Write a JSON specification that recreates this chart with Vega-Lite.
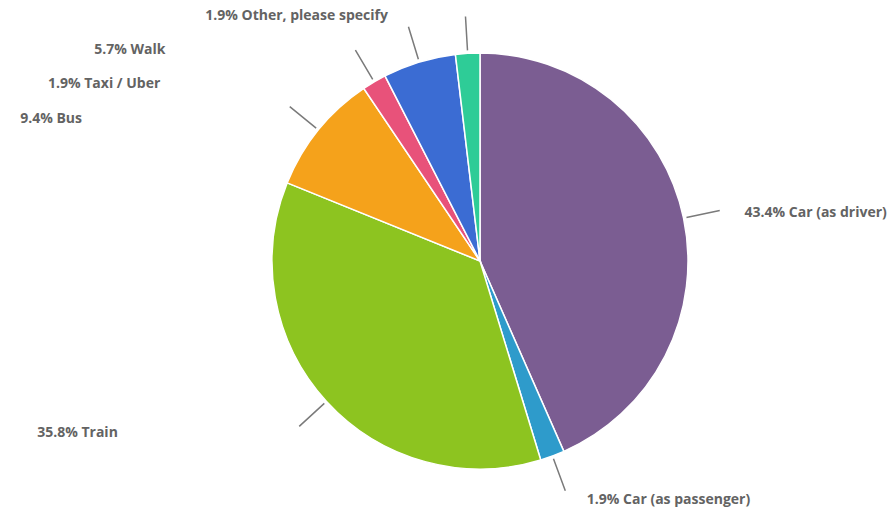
{
  "$schema": "https://vega.github.io/schema/vega-lite/v6.json",
  "width": 832,
  "height": 504,
  "autosize": "none",
  "padding": {"left": 64, "top": 9, "right": 0, "bottom": 0},
  "background": "white",
  "view": {"stroke": null},
  "data": {
    "values": [
      {"i": 1, "category": "Car (as driver)", "count": 23, "label": "43.4% Car (as driver)"},
      {"i": 2, "category": "Car (as passenger)", "count": 1, "label": "1.9% Car (as passenger)"},
      {"i": 3, "category": "Train", "count": 19, "label": "35.8% Train"},
      {"i": 4, "category": "Bus", "count": 5, "label": "9.4% Bus"},
      {"i": 5, "category": "Taxi / Uber", "count": 1, "label": "1.9% Taxi / Uber"},
      {"i": 6, "category": "Walk", "count": 3, "label": "5.7% Walk"},
      {"i": 7, "category": "Other, please specify", "count": 1, "label": "1.9% Other, please specify"}
    ]
  },
  "encoding": {
    "theta": {"field": "count", "type": "quantitative", "stack": true},
    "order": {"field": "i", "type": "quantitative"}
  },
  "layer": [
    {
      "mark": {"type": "arc", "outerRadius": 208, "stroke": "white", "strokeWidth": 1.5},
      "encoding": {
        "color": {
          "field": "category",
          "type": "nominal",
          "scale": {
            "domain": ["Car (as driver)", "Car (as passenger)", "Train", "Bus", "Taxi / Uber", "Walk", "Other, please specify"],
            "range": ["#7B5D92", "#2E9BCB", "#8DC420", "#F5A21B", "#E8527A", "#3B6CD3", "#2ECC97"]
          },
          "legend": null
        }
      }
    },
    {
      "mark": {"type": "arc", "innerRadius": 211, "outerRadius": 245, "padAngle": 3.14, "fillOpacity": 0, "stroke": "#7a7a7a", "strokeWidth": 1.5}
    },
    {
      "mark": {"type": "text", "radius": 255, "align": "left", "baseline": "middle", "dx": 15, "dy": 5, "font": "Open Sans", "fontSize": 14, "fontWeight": "bold", "color": "#636363"},
      "encoding": {"text": {"condition": {"test": "datum.category === 'Car (as driver)'", "field": "label", "type": "nominal"}, "value": ""}}
    },
    {
      "mark": {"type": "text", "radius": 255, "align": "left", "baseline": "middle", "dx": 18, "dy": 0, "font": "Open Sans", "fontSize": 14, "fontWeight": "bold", "color": "#636363"},
      "encoding": {"text": {"condition": {"test": "datum.category === 'Car (as passenger)'", "field": "label", "type": "nominal"}, "value": ""}}
    },
    {
      "mark": {"type": "text", "radius": 255, "align": "right", "baseline": "middle", "dx": -174, "dy": 0, "font": "Open Sans", "fontSize": 14, "fontWeight": "bold", "color": "#636363"},
      "encoding": {"text": {"condition": {"test": "datum.category === 'Train'", "field": "label", "type": "nominal"}, "value": ""}}
    },
    {
      "mark": {"type": "text", "radius": 255, "align": "right", "baseline": "middle", "dx": -200, "dy": 19, "font": "Open Sans", "fontSize": 14, "fontWeight": "bold", "color": "#636363"},
      "encoding": {"text": {"condition": {"test": "datum.category === 'Bus'", "field": "label", "type": "nominal"}, "value": ""}}
    },
    {
      "mark": {"type": "text", "radius": 255, "align": "right", "baseline": "middle", "dx": -190, "dy": 43, "font": "Open Sans", "fontSize": 14, "fontWeight": "bold", "color": "#636363"},
      "encoding": {"text": {"condition": {"test": "datum.category === 'Taxi / Uber'", "field": "label", "type": "nominal"}, "value": ""}}
    },
    {
      "mark": {"type": "text", "radius": 255, "align": "right", "baseline": "middle", "dx": -240, "dy": 33, "font": "Open Sans", "fontSize": 14, "fontWeight": "bold", "color": "#636363"},
      "encoding": {"text": {"condition": {"test": "datum.category === 'Walk'", "field": "label", "type": "nominal"}, "value": ""}}
    },
    {
      "mark": {"type": "text", "radius": 255, "align": "right", "baseline": "middle", "dx": -77, "dy": 10, "font": "Open Sans", "fontSize": 14, "fontWeight": "bold", "color": "#636363"},
      "encoding": {"text": {"condition": {"test": "datum.category === 'Other, please specify'", "field": "label", "type": "nominal"}, "value": ""}}
    }
  ]
}
